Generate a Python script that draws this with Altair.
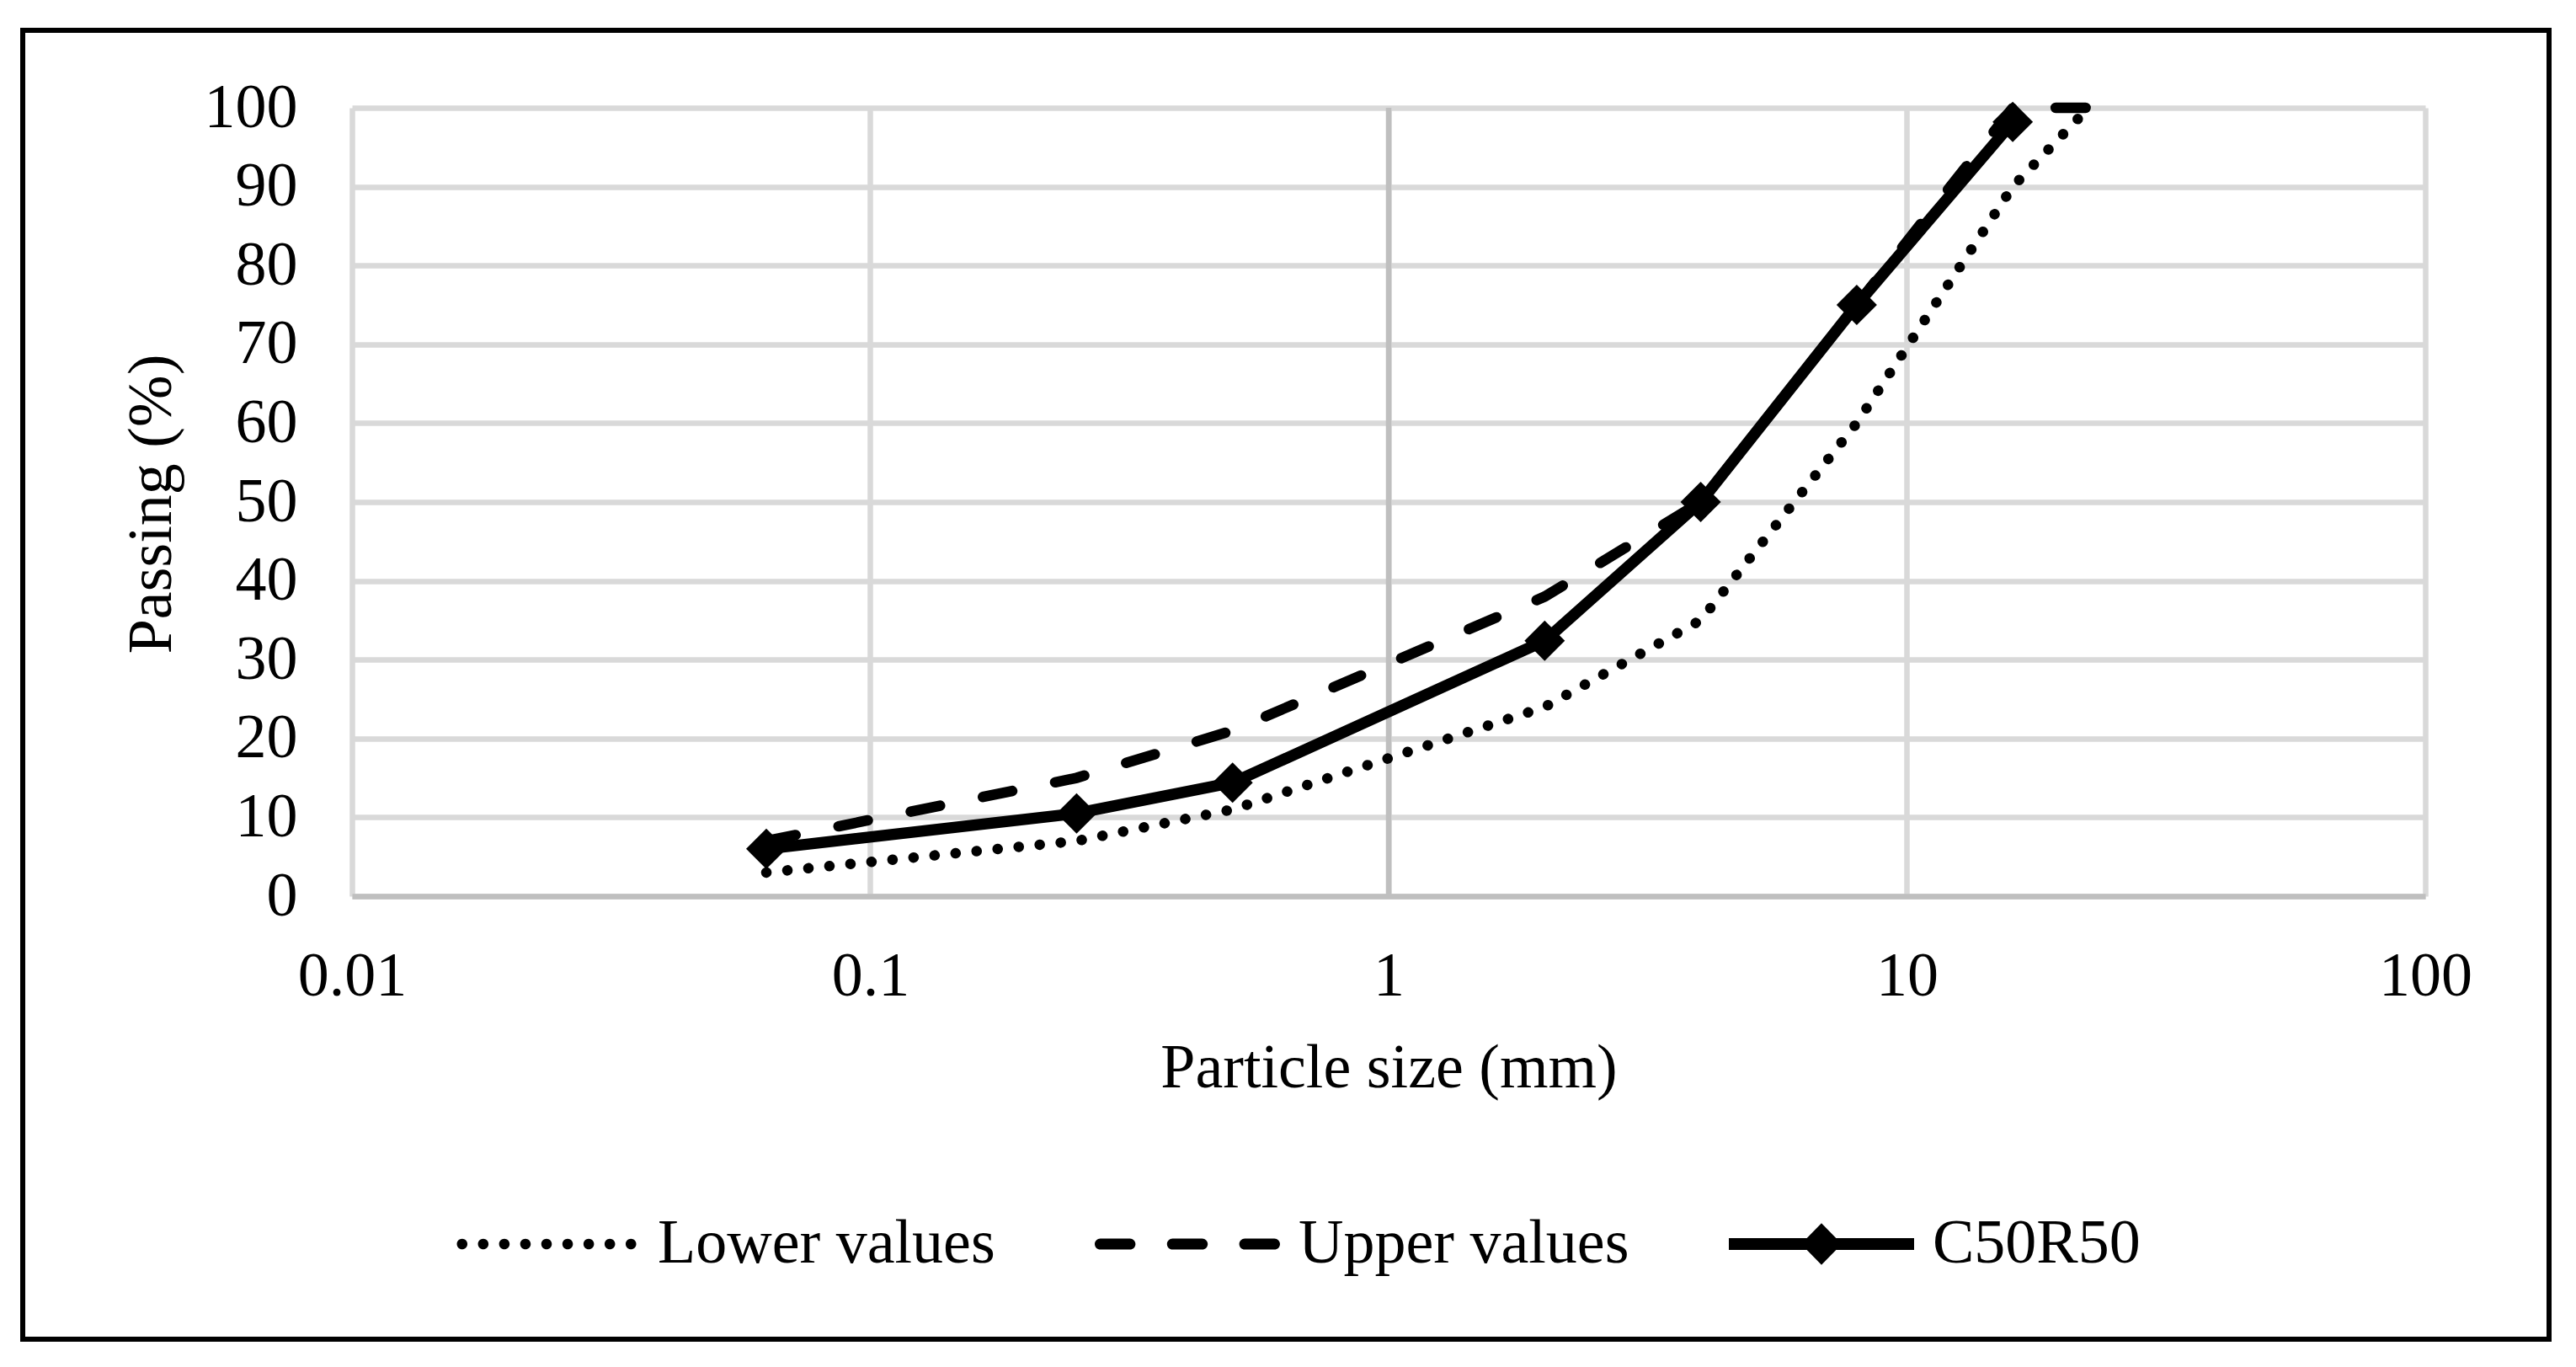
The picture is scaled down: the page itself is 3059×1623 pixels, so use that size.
import altair as alt
import pandas as pd

# ---- data ----
env_sizes = [0.063, 0.25, 0.5, 2, 4, 8, 16, 22.4]
lower_values = [3, 7, 11, 24, 35, 60, 90, 100]
upper_values = [7, 15, 21, 38, 50, 75, 100, 100]
mix_sizes = [0.063, 0.25, 0.5, 2, 4, 8, 16]
mix_values = [6, 10.5, 14.4, 32.4, 50, 75, 98.2]
series_names = ["Lower values", "Upper values", "C50R50"]
x_ticks = [0.01, 0.1, 1, 10, 100]
y_ticks = list(range(0, 101, 10))
axis_cross = [1]

rows = []
for s, v in zip(env_sizes, lower_values):
    rows.append({"size": s, "passing": v, "series": "Lower values"})
for s, v in zip(env_sizes, upper_values):
    rows.append({"size": s, "passing": v, "series": "Upper values"})
for s, v in zip(mix_sizes, mix_values):
    rows.append({"size": s, "passing": v, "series": "C50R50"})
df = pd.DataFrame(rows)

FONT = "Liberation Serif"
FS = 74
GRID = "#D9D9D9"
AXIS = "#BFBFBF"
W, H = 2462, 936

# ---- legend symbols as custom paths (unit space -1..1) ----
r = 0.057
dot_centers = [-0.911 + i * 0.2278 for i in range(9)]
dot_path = " ".join(
    f"M{c - r:.4f},0 A{r},{r} 0 1,0 {c + r:.4f},0 A{r},{r} 0 1,0 {c - r:.4f},0 Z"
    for c in dot_centers
)
h = 0.06
dash_segs = [(-1.0, -0.56), (-0.22, 0.22), (0.56, 1.0)]
dash_path = " ".join(
    f"M{x0 + h:.4f},{-h} L{x1 - h:.4f},{-h} A{h},{h} 0 0,1 {x1 - h:.4f},{h} "
    f"L{x0 + h:.4f},{h} A{h},{h} 0 0,1 {x0 + h:.4f},{-h} Z"
    for x0, x1 in dash_segs
)
solid_path = "M-1,-0.064 L1,-0.064 L1,0.064 L-1,0.064 Z M0,-0.225 L0.22,0 L0,0.225 L-0.22,0 Z"

x_enc = alt.X(
    "size:Q",
    scale=alt.Scale(type="log", domain=[0.01, 100], nice=False),
    axis=alt.Axis(
        values=x_ticks, format="~g", title="Particle size (mm)",
        grid=True, gridColor=GRID, gridWidth=6.5,
        domainColor=AXIS, domainWidth=6.5, ticks=False,
        labelFont=FONT, labelFontSize=FS, labelColor="black",
        labelPadding=117, labelBaseline="alphabetic",
        labelFlush=False, labelOverlap=False,
        titleFont=FONT, titleFontSize=FS, titleFontWeight="normal", titleColor="black",
        titleX=W / 2, titleY=226, titleBaseline="alphabetic", titleAlign="center",
    ),
)
y_enc = alt.Y(
    "passing:Q",
    scale=alt.Scale(domain=[0, 100], nice=False),
    axis=alt.Axis(
        values=y_ticks, title="Passing (%)",
        grid=True, gridColor=GRID, gridWidth=6.5,
        domain=False, ticks=False,
        labelFont=FONT, labelFontSize=FS, labelColor="black", labelPadding=65,
        titleFont=FONT, titleFontSize=FS, titleFontWeight="normal", titleColor="black",
        titleAngle=270, titleX=-238, titleY=470, titleBaseline="middle", titleAlign="center",
    ),
)

frame = alt.Chart(pd.DataFrame({"k": [0]})).mark_rect(
    fill="transparent", stroke="black", strokeWidth=6
).encode(
    x=alt.value(-391), x2=alt.value(2609), y=alt.value(-92), y2=alt.value(1462)
)

cross = alt.Chart(pd.DataFrame({"size": axis_cross})).mark_rule(
    color=AXIS, strokeWidth=6.5
).encode(x=x_enc, y=alt.datum(0), y2=alt.datum(100))

lower = alt.Chart(df).transform_filter(alt.datum.series == "Lower values").mark_line(
    color="black", strokeWidth=12.5, strokeDash=[0.1, 25], strokeCap="round"
).encode(x=x_enc, y=y_enc, order="size:Q")

upper = alt.Chart(df).transform_filter(alt.datum.series == "Upper values").mark_line(
    color="black", strokeWidth=12.5, strokeDash=[35.5, 52], strokeCap="round"
).encode(x=x_enc, y=y_enc, order="size:Q")

mix_line = alt.Chart(df).transform_filter(alt.datum.series == "C50R50").mark_line(
    color="black", strokeWidth=13.5, strokeJoin="round"
).encode(x=x_enc, y=y_enc, order="size:Q")

mix_pts = alt.Chart(df).transform_filter(alt.datum.series == "C50R50").mark_point(
    shape="diamond", filled=True, color="black", opacity=1, size=2304
).encode(x=x_enc, y=y_enc)

legend_layer = alt.Chart(df).transform_filter("false").mark_point(
    filled=True, color="black", opacity=1
).encode(
    x=x_enc, y=y_enc,
    shape=alt.Shape(
        "series:N",
        scale=alt.Scale(domain=series_names, range=[dot_path, dash_path, solid_path]),
        legend=alt.Legend(
            title=None, orient="none", legendX=121, legendY=1239,
            direction="horizontal", columns=3, padding=0,
            symbolSize=48400, symbolStrokeWidth=0, symbolFillColor="black",
            labelFont=FONT, labelFontSize=FS, labelColor="black", labelLimit=0,
            labelOffset=22, columnPadding=118,
        ),
    ),
)

chart = alt.layer(
    frame, cross, lower, upper, mix_line, mix_pts, legend_layer
).properties(
    width=W, height=H,
    autosize=alt.AutoSizeParams(type="none"),
    padding={"left": 410, "top": 120, "right": 170, "bottom": 545},
).configure_view(strokeWidth=0)

chart.save("out.html", embed_options={"renderer": "svg", "actions": False})
